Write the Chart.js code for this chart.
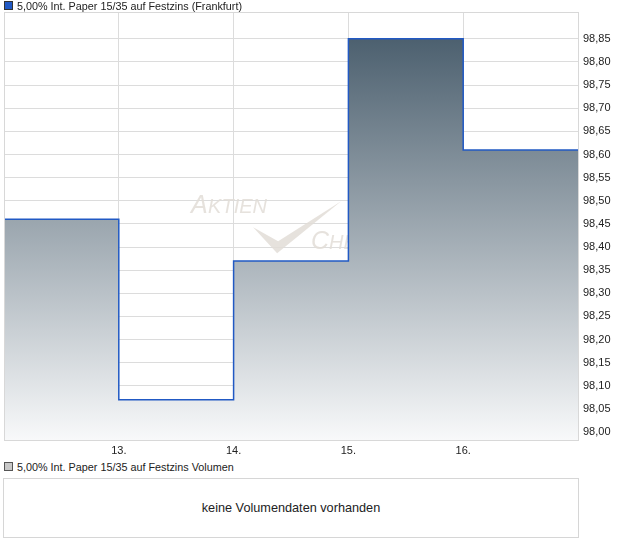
<!DOCTYPE html>
<html>
<head>
<meta charset="utf-8">
<script src="https://cdn.jsdelivr.net/npm/chart.js@4/dist/chart.umd.min.js"></script>
<style>
body { margin: 0; background: #fff; font-family: Arial, "Liberation Sans", sans-serif; color: #222; }
#wrap { position: relative; width: 620px; height: 546px; }
.leg { position: absolute; left: 4px; font-size: 10.8px; line-height: 12px; white-space: nowrap; }
.leg i { display: inline-block; width: 7px; height: 7px; border: 1px solid #333; margin-right: 4px; vertical-align: 0px; }
#chartBox { position: absolute; left: 0; top: 0; width: 620px; height: 460px; }
#volBox { position: absolute; left: 3px; top: 478px; width: 574px; height: 58px; border: 1px solid #d6d6d6; font-size: 12.7px; text-align: center; line-height: 58px; }
</style>
</head>
<body>
<div id="wrap">
    <div id="chartBox"><canvas id="priceChart"></canvas></div>
    <div class="leg" style="top:0px"><i style="background:#2159c4"></i>5,00% Int. Paper 15/35 auf Festzins (Frankfurt)</div>
    <div class="leg" style="top:461px"><i style="background:#c8c8c8;border-color:#555"></i>5,00% Int. Paper 15/35 auf Festzins Volumen</div>
    <div id="volBox">keine Volumendaten vorhanden</div>
</div>

<script>

// DATA

const days = [12, 13, 14, 15, 16, 17];
const prices = [98.46, 98.07, 98.37, 98.85, 98.61, 98.61];

const xTicks = [13, 14, 15, 16];
const yTicks = [98.00, 98.05, 98.10, 98.15, 98.20, 98.25, 98.30, 98.35, 98.40,
                98.45, 98.50, 98.55, 98.60, 98.65, 98.70, 98.75, 98.80, 98.85];


// FRAME + WATERMARK

const frame = {
    id: 'frame',
    beforeDatasetsDraw(chart) {
        const a = chart.chartArea;
        const c = chart.ctx;
        c.save();
        c.fillStyle = 'rgba(226,221,215,0.85)';
        const cx = a.left + (a.right - a.left) * 0.326;
        const cy = a.top + (a.bottom - a.top) * 0.47;
        c.font = 'italic 25px Arial, "Liberation Sans"';
        c.fillText('A', cx, cy);
        c.font = 'italic 20px Arial, "Liberation Sans"';
        c.fillText('KTIEN', cx + 17, cy);
        c.font = 'italic 25px Arial, "Liberation Sans"';
        c.fillText('C', cx + 120, cy + 36);
        c.font = 'italic 20px Arial, "Liberation Sans"';
        c.fillText('HECK', cx + 138, cy + 36);
        c.beginPath();
        c.moveTo(cx + 62, cy + 14);
        c.lineTo(cx + 86, cy + 40);
        c.lineTo(cx + 150, cy - 12);
        c.lineTo(cx + 87, cy + 28);
        c.closePath();
        c.fill();
        c.restore();
    },
    afterDraw(chart) {
        const a = chart.chartArea;
        const c = chart.ctx;
        c.save();
        c.strokeStyle = '#d8d8d8';
        c.lineWidth = 1;
        c.strokeRect(a.left + 0.5, a.top + 0.5, a.right - a.left, a.bottom - a.top);
        c.restore();
    }
};


// PRICE CHART

const ctx = document.getElementById('priceChart');

new Chart(ctx, {

    type: 'line',

    data: {
        datasets: [{
            data: days.map((d, i) => ({ x: d, y: prices[i] })),
            stepped: true,
            borderColor: '#2159c4',
            borderWidth: 1.5,
            pointRadius: 0,
            fill: 'start',
            backgroundColor: (context) => {
                const area = context.chart.chartArea;
                if (!area) return '#8f9ba2';
                const g = context.chart.ctx.createLinearGradient(0, area.top, 0, area.bottom);
                g.addColorStop(0, '#415666');
                g.addColorStop(1, '#f8f9fa');
                return g;
            }
        }]
    },

    options: {

        responsive: true,
        maintainAspectRatio: false,
        animation: false,

        layout: {
            padding: { left: 3, top: 12, right: 0, bottom: 0 }
        },

        plugins: {
            legend: { display: false },
            tooltip: { enabled: false }
        },

        scales: {

            x: {
                type: 'linear',
                min: days[0],
                max: days[days.length - 1],
                afterBuildTicks: (scale) => {
                    scale.ticks = days.map(v => ({ value: v }));
                },
                afterFit: (scale) => { scale.height = 20; },
                grid: { color: '#dcdcdc', drawTicks: false },
                border: { display: false },
                ticks: {
                    color: '#222',
                    font: { family: 'Arial, "Liberation Sans"', size: 11 },
                    padding: 4,
                    maxRotation: 0,
                    autoSkip: false,
                    callback: (v) => xTicks.includes(v) ? v + '.' : ''
                }
            },

            y: {
                position: 'right',
                min: 97.983,
                max: 98.908,
                afterBuildTicks: (scale) => {
                    scale.ticks = yTicks.map(v => ({ value: v }));
                },
                afterFit: (scale) => { scale.width = 42; },
                grid: { color: '#dcdcdc', drawTicks: false },
                border: { color: '#d0d0d0' },
                ticks: {
                    color: '#222',
                    font: { family: 'Arial, "Liberation Sans"', size: 11 },
                    padding: 5,
                    autoSkip: false,
                    callback: (v) => Number(v).toFixed(2).replace('.', ',')
                }
            }

        }

    },

    plugins: [frame]

});

</script>
</body>
</html>
